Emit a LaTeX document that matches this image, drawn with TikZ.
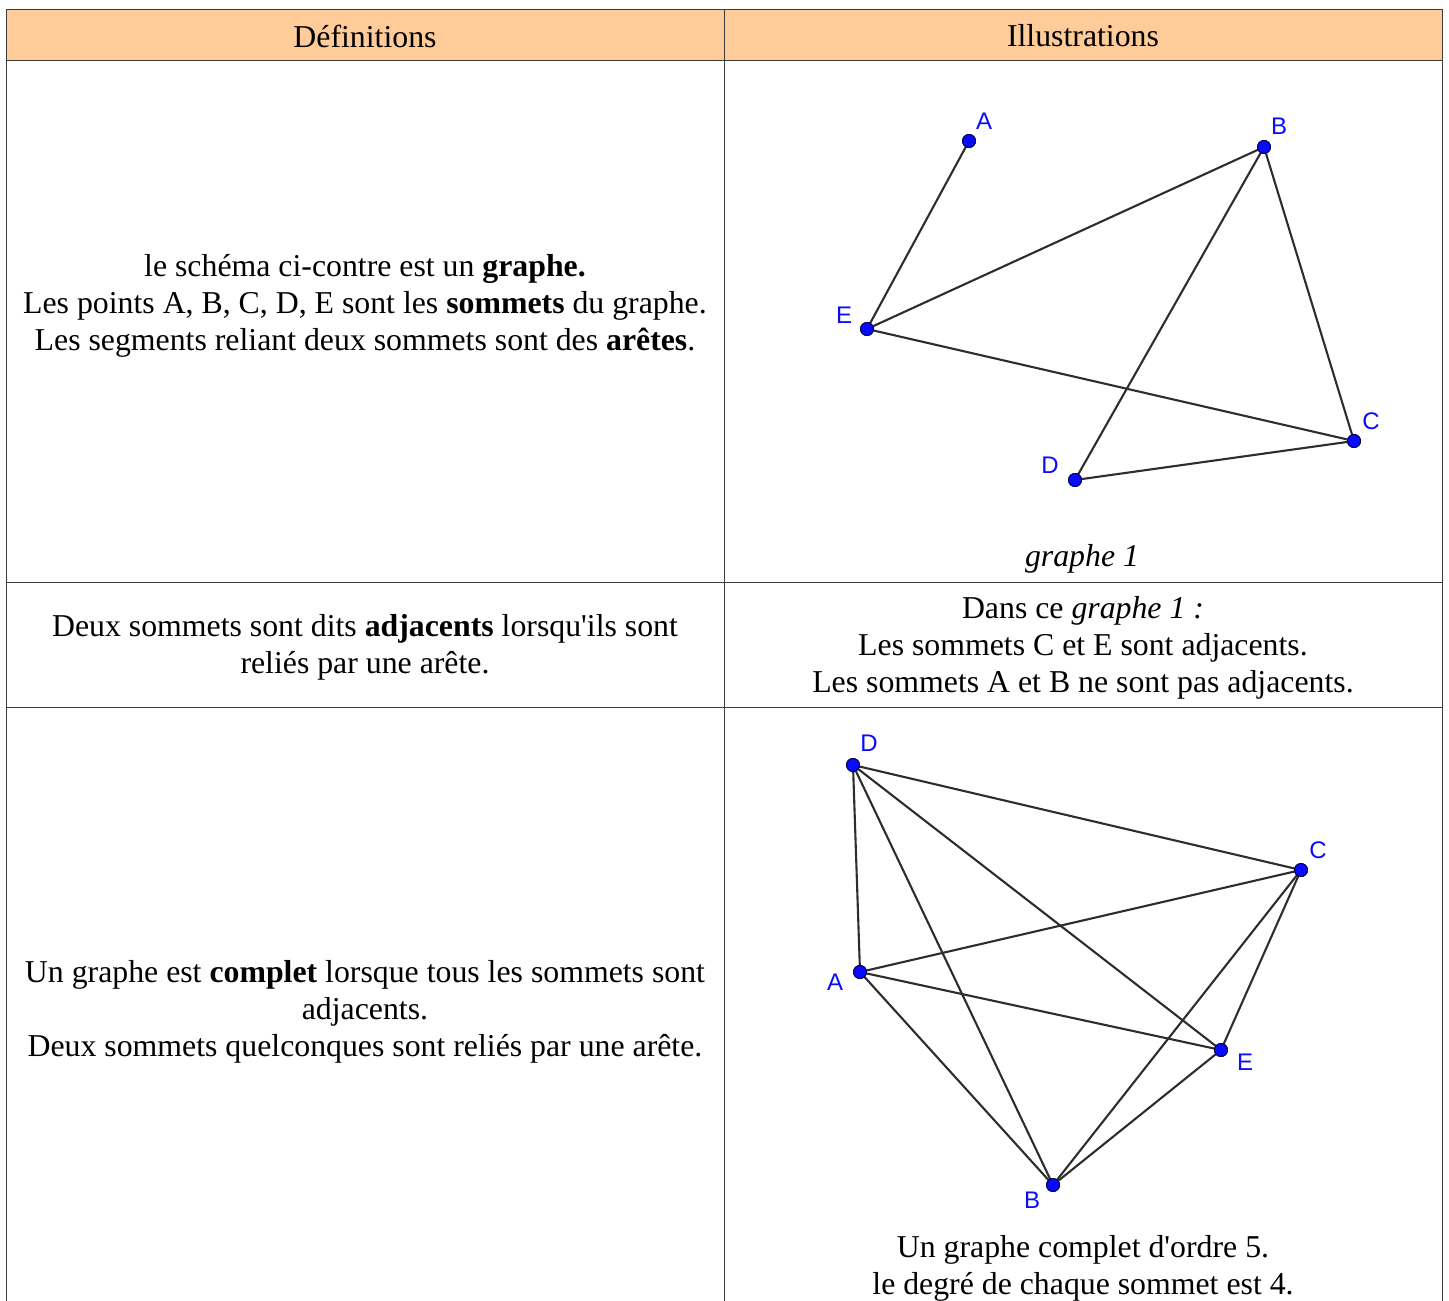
\documentclass[tikz,border=0pt]{standalone}
\usepackage{fontspec}
\setmainfont{Liberation Serif}[Ligatures=TeXOff]
\newfontfamily\lblfont{Liberation Sans}
\definecolor{hdr}{HTML}{FFCC99}
\definecolor{ptblue}{RGB}{10,10,255}
\definecolor{edgegray}{RGB}{45,45,45}
\definecolor{rule}{RGB}{60,60,60}
\begin{document}
\begin{tikzpicture}[x=1pt,y=-1pt,
  txt/.style={inner sep=0pt,align=center,font=\fontsize{31.8}{37}\selectfont},
  vtx/.style={circle,fill=ptblue,draw=black!70!blue,line width=0.9pt,inner sep=0pt,minimum size=13pt},
  vlbl/.style={inner sep=0pt,text=ptblue,font=\lblfont\fontsize{24}{24}\selectfont},
  edge/.style={draw=edgegray,line width=2.1pt},
  tline/.style={draw=rule,line width=1pt}]
\useasboundingbox (0,0) rectangle (1449,1301);
% table
\fill[hdr] (6,9) rectangle (1442,60);
\draw[tline] (6,1301) -- (6,9) -- (1442,9) -- (1442,1301);
\draw[tline] (6,60) -- (1442,60);
\draw[tline] (6,582) -- (1442,582);
\draw[tline] (6,707) -- (1442,707);
\draw[tline] (724,9) -- (724,1301);
% header
\node[txt] (h1) at (365,36) {Définitions};
\node[txt] (h2) at (1083,36) {Illustrations};
% row 1
\node[txt] (d1) at (365,306) {le schéma ci-contre est un \textbf{graphe.}\\
Les points A, B, C, D, E sont les \textbf{sommets} du graphe.\\
Les segments reliant deux sommets sont des \textbf{arêtes}.};
\node[vtx] (A) at (969,141) {};
\node[vtx] (B) at (1264,147) {};
\node[vtx] (E) at (867,329) {};
\node[vtx] (C) at (1354,441) {};
\node[vtx] (D) at (1075,480) {};
\node[vlbl] (lA) at (984,121) {A};
\node[vlbl] (lB) at (1279,126) {B};
\node[vlbl] (lE) at (844,315) {E};
\node[vlbl] (lC) at (1371,421) {C};
\node[vlbl] (lD) at (1050,465) {D};
\draw[edge] (A.center) -- (E.center);
\draw[edge] (E.center) -- (B.center);
\draw[edge] (E.center) -- (C.center);
\draw[edge] (B.center) -- (D.center);
\draw[edge] (B.center) -- (C.center);
\draw[edge] (D.center) -- (C.center);
\foreach \v in {A,B,C,D,E} \node[vtx] at (\v) {};
\node[txt,font=\fontsize{31.8}{37}\selectfont\itshape] (g1) at (1082,559) {graphe 1};
% row 2
\node[txt] (d2) at (365,647) {Deux sommets sont dits \textbf{adjacents} lorsqu'ils sont\\reliés par une arête.};
\node[txt] (i2) at (1083,648) {Dans ce \textit{graphe 1 :}\\
Les sommets C et E sont adjacents.\\
Les sommets A et B ne sont pas adjacents.};
% row 3
\node[txt] (d3) at (365,1012) {Un graphe est \textbf{complet} lorsque tous les sommets sont\\
adjacents.\\
Deux sommets quelconques sont reliés par une arête.};
\node[vtx] (D2) at (853,765) {};
\node[vtx] (C2) at (1301,870) {};
\node[vtx] (A2) at (860,972) {};
\node[vtx] (E2) at (1221,1050) {};
\node[vtx] (B2) at (1053,1185) {};
\node[vlbl] (lD2) at (869,743) {D};
\node[vlbl] (lC2) at (1318,850) {C};
\node[vlbl] (lA2) at (835,982) {A};
\node[vlbl] (lE2) at (1245,1062) {E};
\node[vlbl] (lB2) at (1032,1200) {B};
\foreach \a/\b in {D2/C2,D2/A2,D2/E2,D2/B2,C2/A2,C2/E2,C2/B2,A2/E2,A2/B2,E2/B2}
  \draw[edge] (\a.center) -- (\b.center);
\foreach \v in {A2,B2,C2,D2,E2} \node[vtx] at (\v) {};
\node[txt] (i3) at (1083,1268) {Un graphe complet d'ordre 5.\\le degré de chaque sommet est 4.};
\end{tikzpicture}
\end{document}
